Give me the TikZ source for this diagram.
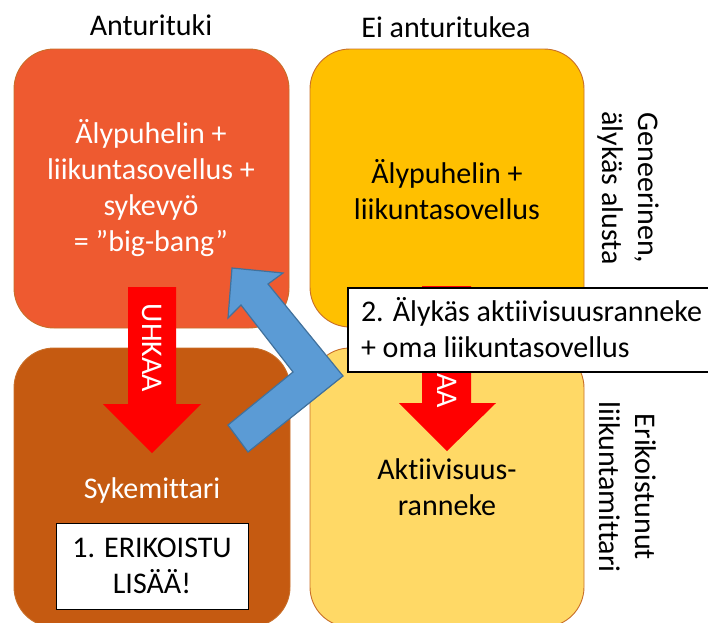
\documentclass[tikz,border=0pt]{standalone}
\usepackage{fontspec}
\setmainfont{Carlito}[Ligatures={NoCommon}]
\definecolor{cTL}{RGB}{238,90,48}
\definecolor{cTR}{RGB}{255,192,0}
\definecolor{cBL}{RGB}{197,90,17}
\definecolor{cBR}{RGB}{255,217,102}
\definecolor{cEdge}{RGB}{200,110,40}
\definecolor{cBlue}{RGB}{91,155,213}
\definecolor{cBlueEdge}{RGB}{65,113,156}
\definecolor{cRed}{RGB}{255,0,0}
\begin{document}
\begin{tikzpicture}[x=1pt,y=-1pt,
  every node/.style={inner sep=0pt,outer sep=0pt,font=\fontsize{30}{36}\selectfont},
  quad/.style={draw=cEdge,line width=0.9pt,rounded corners=40pt},
  redarrow/.style={fill=cRed,draw=none},
  bluearrow/.style={fill=cBlue,draw=cBlueEdge,line width=1.2pt,line join=miter},
  notebox/.style={fill=white,draw=black,line width=1pt},
  vtext/.style={rotate=-90,align=center}]
\useasboundingbox (0,0) rectangle (708,622);
\begin{scope}
\clip (0,0) rectangle (708,622);
% quadrants
\draw[quad,fill=cTL] (14,49) rectangle (289,328);
\draw[quad,fill=cTR] (310,49) rectangle (584,327);
\draw[quad,fill=cBL] (14,348) rectangle (290,627);
\draw[quad,fill=cBR] (310,348) rectangle (584,627);
% headings
\node[anchor=base] (hA) at (151,35) {Anturituki};
\node[anchor=base] (hB) at (446,37) {Ei anturitukea};
% quadrant texts
\node[align=center,text=white] (tl) at (151,188) {Älypuhelin +\\liikuntasovellus +\\sykevyö\\= ”big-bang”};
\node[align=center] (tr) at (447,190) {Älypuhelin +\\liikuntasovellus};
% red arrows
\fill[redarrow] (128,287) -- (176,287) -- (176,404) -- (201,404) -- (152,453) -- (103,404) -- (128,404) -- cycle;
\node[rotate=-90,text=white] (u1) at (152,348) {UHKAA};
\fill[redarrow] (422,286) -- (471,286) -- (471,403) -- (496,403) -- (447,451) -- (399,403) -- (422,403) -- cycle;
\node[rotate=-90,text=white] (u2) at (447,364) {UHKAA};
% lower texts
\node[anchor=base,text=white] (bl) at (152,498) {Sykemittari};
\node[align=center] (br) at (447,487) {Aktiivisuus-\\ranneke};
% blue bent arrow
\draw[bluearrow] (232,268) -- (283,273) -- (268,284) -- (343,376) -- (248,452) -- (228,425) -- (293,372) -- (241,305) -- (228,318) -- cycle;
% note boxes
\draw[notebox] (56,523) rectangle (248,609);
\node[align=center] (n1) at (152,566) {1. ERIKOISTU\\LISÄÄ!};
\draw[notebox,line width=1.2pt] (348,288) rectangle (715,372);
\node[align=left,anchor=north west] (n2) at (361,297) {2. Älykäs aktiivisuusranneke\\+ oma liikuntasovellus};
% side labels
\node[vtext] (s1) at (628,188) {Geneerinen,\\älykäs alusta};
\node[vtext] (s2) at (628,487) {Erikoistunut\\liikuntamittari};
\end{scope}
\end{tikzpicture}
\end{document}
